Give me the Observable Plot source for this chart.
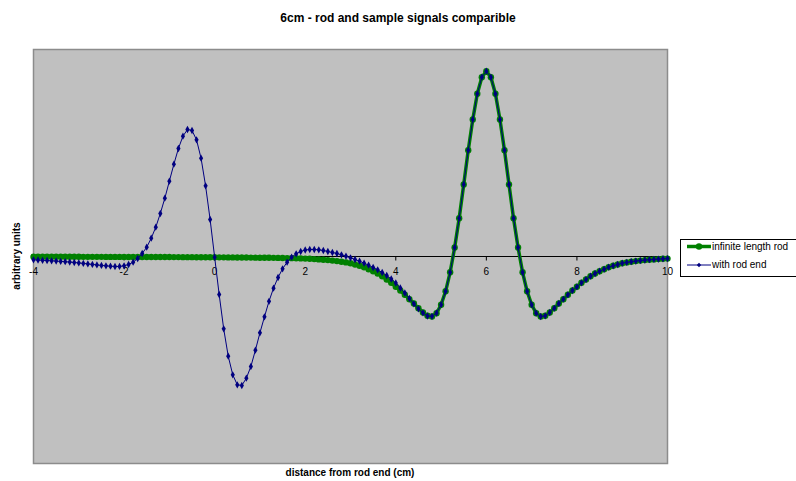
<!DOCTYPE html>
<html><head><meta charset="utf-8">
<script src="https://cdn.jsdelivr.net/npm/d3@7"></script>
<script src="https://cdn.jsdelivr.net/npm/@observablehq/plot@0.6"></script>
<style>
html,body{margin:0;padding:0;background:#fff;overflow:hidden;}
#wrap{position:relative;width:796px;height:481px;overflow:hidden;font-family:"Liberation Sans",Arial,sans-serif;color:#000;}
#chart{position:absolute;left:0;top:0;}
#title{position:absolute;left:0;width:796px;top:11px;line-height:14px;text-align:center;font-weight:bold;font-size:12px;}
#xlabel{position:absolute;left:33px;width:634px;top:467px;line-height:12px;text-align:center;font-weight:bold;font-size:10px;}
#ylabel{position:absolute;left:-83px;width:200px;top:250px;line-height:12px;height:12px;text-align:center;font-weight:bold;font-size:10px;transform:rotate(-90deg);}
#legend{position:absolute;left:680px;top:239px;width:140px;height:36px;border:1px solid #000;background:#fff;}
#legend svg{position:absolute;left:0;top:0;}
#legend span{position:absolute;left:31px;font-size:10px;line-height:12px;white-space:nowrap;}
</style>
</head><body>
<div id="wrap">
  <div id="chart"></div>
  <div id="title">6cm - rod and sample signals comparible</div>
  <div id="xlabel">distance from rod end (cm)</div>
  <div id="ylabel">arbitrary units</div>
  <div id="legend">
    <svg width="32" height="36">
      <line x1="6" y1="6.5" x2="30" y2="6.5" stroke="#008000" stroke-width="3.5"/>
      <circle cx="18" cy="6.5" r="3.2" fill="#008000"/>
      <line x1="6" y1="25" x2="30" y2="25" stroke="#000080" stroke-width="1"/>
      <path d="M18,22.8L20.2,25L18,27.2L15.8,25Z" fill="#000080"/>
    </svg>
    <span style="top:0.5px">infinite length rod</span>
    <span style="top:19px">with rod end</span>
  </div>
</div>
<script>
// x sampling grid: -4 .. 10 cm in 0.1 cm steps
const xStart = -4, xStep = 0.1;
const xTicks = [-4, -2, 0, 2, 4, 6, 8, 10];

// "infinite length rod" (arbitrary units)
const infiniteRod = [
  -0.25,-0.26,-0.26,-0.27,-0.28,-0.28,-0.29,-0.3,-0.3,-0.31,
  -0.32,-0.33,-0.34,-0.35,-0.36,-0.37,-0.38,-0.39,-0.4,-0.41,
  -0.42,-0.43,-0.45,-0.46,-0.47,-0.49,-0.5,-0.52,-0.53,-0.55,
  -0.57,-0.59,-0.61,-0.63,-0.65,-0.67,-0.7,-0.72,-0.75,-0.78,
  -0.8,-0.83,-0.86,-0.89,-0.92,-0.96,-1.0,-1.04,-1.08,-1.13,
  -1.18,-1.23,-1.29,-1.35,-1.42,-1.5,-1.58,-1.67,-1.77,-1.88,
  -2.1,-2.3,-2.6,-2.9,-3.2,-3.6,-4.1,-4.6,-5.2,-5.9,
  -6.7,-8.0,-9.3,-10.7,-12.7,-14.7,-17.0,-19.7,-23.0,-26.3,
  -30.3,-34.0,-38.3,-42.7,-47.0,-51.7,-56.0,-59.3,-60.0,-56.7,
  -48.2,-34.8,-15.8,9.0,38.3,72.0,106.3,137.0,162.7,179.3,
  185.3,179.3,162.7,137.0,106.3,72.0,38.3,9.0,-15.8,-34.8,
  -48.2,-56.7,-60.0,-59.3,-56.0,-51.7,-47.0,-42.7,-38.3,-34.0,
  -30.3,-26.3,-23.0,-19.7,-17.0,-14.7,-12.7,-10.7,-9.3,-8.0,
  -6.7,-5.9,-5.2,-4.6,-4.1,-3.6,-3.2,-2.9,-2.6,-2.3,
  -2.1
];

// "with rod end" (arbitrary units)
const withRodEnd = [
  -3.3,-3.5,-3.8,-4.0,-4.3,-4.6,-4.9,-5.2,-5.6,-6.0,
  -6.4,-6.9,-7.4,-7.9,-8.4,-8.9,-9.3,-9.7,-10.0,-9.9,
  -9.3,-8.0,-5.7,-2.0,3.0,9.3,18.3,29.3,43.0,58.3,
  75.3,92.3,108.0,120.3,127.0,126.0,116.7,98.3,70.7,37.0,
  -0.7,-38.0,-72.3,-99.7,-118.3,-128.3,-129.0,-121.7,-110.0,-93.7,
  -76.3,-60.3,-44.8,-31.7,-21.0,-12.3,-5.7,-0.7,2.7,5.0,
  6.5,7.0,7.0,6.7,6.0,5.0,4.0,3.0,1.7,0.3,
  -1.3,-3.0,-4.7,-6.7,-8.7,-11.0,-13.3,-16.0,-19.0,-22.5,
  -26.5,-31.5,-36.5,-42.0,-47.3,-52.3,-56.3,-59.5,-59.8,-56.5,
  -48.2,-34.8,-15.8,9.0,38.3,72.0,106.3,137.0,162.7,179.3,
  185.3,179.3,162.7,137.0,106.3,72.0,38.3,9.0,-15.8,-34.8,
  -48.2,-56.7,-60.0,-59.3,-56.0,-51.7,-47.0,-42.7,-38.3,-34.0,
  -30.3,-26.3,-23.0,-19.7,-17.0,-14.7,-12.7,-10.7,-9.3,-8.0,
  -6.7,-5.9,-5.2,-4.6,-4.1,-3.6,-3.2,-2.9,-2.6,-2.3,
  -2.1
];

const rows = infiniteRod.map((v, i) => ({
  x: Math.round((xStart + i * xStep) * 10) / 10,
  infinite: v,
  rodEnd: withRodEnd[i]
}));

const tickSymbol = {draw(context) { context.moveTo(0, 0); context.lineTo(0, 4); }};

const chart = Plot.plot({
  width: 796,
  height: 481,
  marginLeft: 33,
  marginRight: 129,
  marginTop: 49,
  marginBottom: 18,
  x: {domain: [-4, 10], axis: null},
  y: {domain: [-207, 207], axis: null},
  style: {fontFamily: "'Liberation Sans', Arial, sans-serif", background: "transparent", overflow: "visible"},
  marks: [
    Plot.frame({fill: "#c0c0c0", stroke: "#8c8c8c", strokeWidth: 1.5}),
    Plot.ruleY([0], {stroke: "#000", strokeWidth: 1}),
    Plot.dot(xTicks, {x: d => d, y: 0, symbol: tickSymbol, stroke: "#000", strokeWidth: 1, fill: "none"}),
    Plot.text(xTicks, {x: d => d, y: 0, dy: 15, text: d => String(d), fill: "#000", fontSize: 10}),
    Plot.line(rows, {x: "x", y: "infinite", stroke: "#008000", strokeWidth: 3.5}),
    Plot.dot(rows, {x: "x", y: "infinite", r: 3.2, fill: "#008000", stroke: "none"}),
    Plot.line(rows, {x: "x", y: "rodEnd", stroke: "#000080", strokeWidth: 1}),
    Plot.dot(rows, {x: "x", y: "rodEnd", symbol: "diamond", r: 2.2, fill: "#000080", stroke: "none"})
  ]
});
document.getElementById("chart").appendChild(chart);
</script>
</body></html>
